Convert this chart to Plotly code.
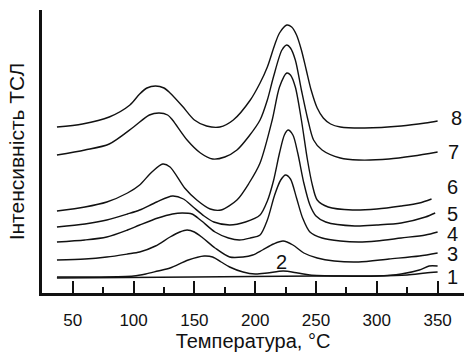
import plotly.graph_objects as go

# Temperatures (°C) and TSL intensity (arbitrary units)
temp_8 = [37, 58, 80, 97, 105, 111, 118, 125, 130, 140, 150, 160, 171, 182, 196, 204, 210, 216, 220, 226, 230, 234, 238, 242, 246, 251, 256, 262, 270, 290, 320, 340, 350]
int_8 = [166, 169, 176, 188, 199, 205, 207, 205, 200, 187, 173, 167, 166, 173, 193, 210, 226, 248, 260, 268, 266, 258, 243, 223, 203, 185, 175, 169, 166, 165, 167, 170, 172]

temp_7 = [37, 60, 80, 100, 113, 121, 128, 132, 144, 155, 165, 175, 185, 195, 204, 210, 215, 222, 226, 229, 233, 238, 243, 248, 255, 270, 285, 310, 330, 350]
int_7 = [138, 143, 149, 166, 178, 180, 178, 173, 153, 140, 134, 136, 143, 157, 173, 193, 216, 243, 248, 245, 233, 203, 175, 153, 143, 135, 133, 134, 137, 141]

temp_6 = [37, 60, 78, 95, 105, 115, 124, 130, 142, 152, 163, 172, 185, 195, 204, 214, 220, 226, 229, 233, 238, 243, 247, 251, 260, 280, 300, 320, 335, 345]
int_6 = [82, 86, 91, 100, 108, 121, 129, 126, 105, 93, 84, 83, 93, 110, 130, 173, 206, 220, 218, 206, 173, 133, 108, 93, 86, 83, 84, 87, 90, 94]

temp_5 = [37, 60, 78, 95, 105, 119, 132, 141, 149, 158, 166, 179, 192, 204, 210, 215, 220, 224, 227, 231, 235, 240, 245, 250, 258, 282, 300, 320, 340, 348]
int_5 = [66, 69, 73, 79, 83, 91, 97, 94, 86, 77, 71, 68, 71, 78, 92, 112, 140, 158, 163, 158, 140, 110, 88, 77, 71, 67, 68, 70, 76, 80]

temp_4 = [37, 60, 78, 95, 105, 120, 132, 140, 148, 155, 167, 178, 187, 196, 204, 210, 216, 221, 225, 229, 234, 239, 245, 255, 270, 285, 300, 320, 340, 350]
int_4 = [51, 53, 56, 63, 68, 75, 79, 80, 79, 73, 61, 55, 53, 55, 58, 73, 98, 113, 118, 114, 95, 75, 61, 55, 52, 51, 52, 55, 58, 61]

temp_3 = [37, 60, 78, 95, 105, 118, 130, 138, 144, 150, 157, 167, 179, 190, 198, 206, 215, 223, 231, 240, 251, 265, 285, 310, 335, 350]
int_3 = [33, 34, 36, 39, 41, 47, 56, 61, 63, 61, 55, 45, 36, 36, 38, 43, 49, 52, 48, 40, 35, 32, 31, 34, 37, 40]

temp_2 = [37, 70, 100, 110, 120, 130, 145, 158, 165, 172, 179, 190, 200, 210, 223, 235, 245, 270, 300, 320, 335, 343, 350]
int_2 = [16, 16, 17, 19, 22, 25, 33, 37, 36, 31, 26, 21, 19, 20, 22, 20, 18, 17, 17, 19, 23, 27, 27]

temp_1 = [37, 150, 250, 300, 325, 340, 350]
int_1 = [15, 16, 17, 17, 18, 20, 21]

curve_labels = ["1", "2", "3", "4", "5", "6", "7", "8"]
label_x = [356, 222, 356, 356, 356, 356, 357, 359]
label_y = [16, 31, 39, 59, 79, 106, 141, 175]

x_ticks = [50, 100, 150, 200, 250, 300, 350]

series = [
    (temp_1, int_1), (temp_2, int_2), (temp_3, int_3), (temp_4, int_4),
    (temp_5, int_5), (temp_6, int_6), (temp_7, int_7), (temp_8, int_8),
]

FONT = "Liberation Sans, Arial, sans-serif"

fig = go.Figure()
for t, v in series:
    fig.add_trace(go.Scatter(
        x=t, y=v, mode="lines",
        line=dict(color="#111111", width=1.4, shape="spline", smoothing=0.8),
        showlegend=False, hoverinfo="skip",
    ))

for lab, lx, ly in zip(curve_labels, label_x, label_y):
    fig.add_annotation(x=lx, y=ly, xref="x", yref="y", text=lab, showarrow=False,
                       font=dict(family=FONT, size=20, color="#111111"),
                       xanchor="left" if lab != "2" else "center", yanchor="middle")

fig.update_layout(
    width=464, height=353,
    margin=dict(l=42, r=0, t=10, b=60),
    paper_bgcolor="white", plot_bgcolor="white",
    font=dict(family=FONT, color="#111111"),
    xaxis=dict(
        range=[24.7, 371.7],
        tickmode="array", tickvals=x_ticks, ticktext=[str(v) for v in x_ticks],
        ticks="inside", ticklen=12, tickwidth=2, tickcolor="#111111",
        minor=dict(ticks="inside", ticklen=6, tickwidth=2, tickcolor="#111111", dtick=25, tick0=25),
        showline=True, linewidth=2.5, linecolor="#111111",
        showgrid=False, zeroline=False,
        tickfont=dict(family=FONT, size=17, color="#111111"),
        ticklabelstandoff=10,
        title=dict(text="Температура, °C", font=dict(family=FONT, size=20, color="#111111"), standoff=3),
    ),
    yaxis=dict(
        range=[0, 283],
        showticklabels=False, ticks="",
        showline=True, linewidth=2.5, linecolor="#111111",
        showgrid=False, zeroline=False,
        title=dict(text="Інтенсивність ТСЛ", font=dict(family=FONT, size=21, color="#111111"), standoff=9),
    ),
)

fig.write_html(
    "out.html",
    config={"displayModeBar": False, "responsive": False},
    post_script="document.body.style.margin='0';document.body.style.overflow='hidden';",
)
